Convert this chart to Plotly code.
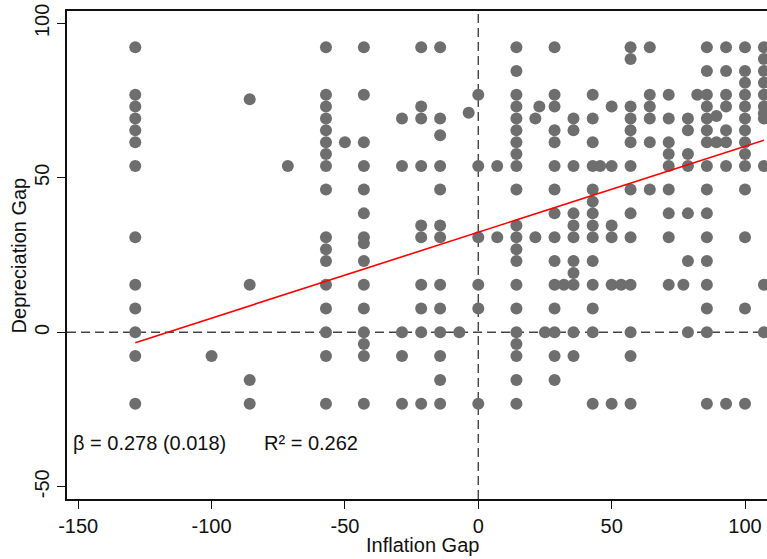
import plotly.graph_objects as go

# Inflation gap columns (x) and the depreciation gap values (y) observed at each
col_x = [-128.6, -100.0, -85.7, -71.4, -57.1, -50.0, -42.9, -28.6, -21.4, -14.3,
         -7.1, -3.6, 0.0, 7.1, 14.3, 21.4, 22.9, 25.0, 28.6, 32.1, 35.7, 42.9,
         45.7, 50.0, 53.6, 57.1, 64.3, 71.4, 76.9, 78.6, 82.1, 85.7, 89.3, 92.9,
         100.0, 107.1]
col_y = [
    [92.3, 76.9, 73.1, 69.2, 65.4, 61.5, 53.8, 30.8, 15.4, 7.7, 0, -7.7, -23.1],
    [-7.7],
    [75.4, 15.4, -15.4, -23.1],
    [53.8],
    [92.3, 76.9, 73.1, 69.2, 65.4, 61.5, 57.7, 53.8, 46.2, 30.8, 26.9, 23.1, 15.4, 7.7, 0, -7.7, -23.1],
    [61.5],
    [92.3, 76.9, 61.5, 53.8, 46.2, 38.5, 30.8, 28.8, 23.1, 15.4, 7.7, 0, -3.8, -7.7, -23.1],
    [69.2, 53.8, 0, -7.7, -23.1],
    [92.3, 73.1, 69.2, 53.8, 34.6, 30.8, 15.4, 7.7, 0, -23.1],
    [92.3, 69.2, 63.8, 53.8, 46.2, 34.6, 30.8, 15.4, 7.7, 0, -7.7, -15.4, -23.1],
    [0],
    [71.1],
    [76.9, 53.8, 30.8, 15.4, 7.7, -23.1],
    [53.8, 30.8],
    [92.3, 84.6, 76.9, 73.1, 69.2, 65.4, 61.5, 57.7, 53.8, 46.2, 34.6, 30.8, 26.9, 23.1, 15.4, 7.7, 0, -3.8, -7.7, -15.4, -23.1],
    [69.2, 30.8],
    [73.1],
    [0],
    [92.3, 76.9, 73.1, 65.4, 61.5, 53.8, 46.2, 38.5, 30.8, 23.1, 15.4, 7.7, 0, -7.7, -15.4],
    [15.4],
    [69.2, 65.4, 53.8, 38.5, 34.6, 30.8, 23.1, 19.2, 15.4, 0, -7.7],
    [76.9, 69.2, 61.5, 53.8, 46.2, 42.3, 38.5, 34.6, 30.8, 23.1, 15.4, 7.7, 0, -23.1],
    [53.8],
    [73.1, 53.8, 34.6, 30.8, 15.4, -23.1],
    [15.4],
    [92.3, 88.5, 73.1, 69.2, 65.4, 61.5, 53.8, 46.2, 38.5, 30.8, 15.4, 0, -7.7, -23.1],
    [92.3, 76.9, 73.1, 69.2, 61.5, 46.2],
    [76.9, 69.2, 61.5, 57.7, 53.8, 46.2, 38.5, 30.8, 15.4],
    [15.4],
    [69.2, 65.4, 57.7, 53.8, 38.5, 23.1, 0],
    [76.9],
    [92.3, 84.6, 76.9, 73.1, 69.2, 65.4, 61.5, 53.8, 46.2, 38.5, 30.8, 23.1, 15.4, 7.7, 0, -23.1],
    [70.0, 61.5],
    [92.3, 84.6, 76.9, 73.1, 65.4, 61.5, 53.8, -23.1],
    [92.3, 84.6, 80.8, 76.9, 73.1, 69.2, 65.4, 61.5, 57.7, 53.8, 46.2, 30.8, 7.7, -23.1],
    [92.3, 88.5, 84.6, 80.8, 76.9, 73.1, 70.9, 69.2, 53.8, 15.4, 0],
]

fit_slope = 0.278
fit_se = 0.018
fit_intercept = 32.4
r_squared = 0.262

x_ticks = [-150, -100, -50, 0, 50, 100]
x_tick_labels = ["-150", "-100", "-50", "0", "50", "100"]
y_ticks = [-50, 0, 50, 100]
y_tick_labels = ["-50", "0", "50", "100"]

xs, ys = [], []
for cx, yl in zip(col_x, col_y):
    for v in yl:
        xs.append(cx)
        ys.append(v)

FONT = "Liberation Sans, Arial, Helvetica, sans-serif"
TXT = "#111111"

fig = go.Figure()
fig.add_trace(go.Scatter(x=xs, y=ys, mode="markers",
                         marker=dict(size=12, color="#6e6e6e", line=dict(width=0)),
                         hoverinfo="x+y", showlegend=False))

lx = [min(xs), max(xs)]
ly = [fit_intercept + fit_slope * v for v in lx]
fig.add_trace(go.Scatter(x=lx, y=ly, mode="lines",
                         line=dict(color="#ff0000", width=1.6),
                         showlegend=False, hoverinfo="skip"))

# reference dashed lines
fig.add_shape(type="line", xref="x", yref="paper", x0=0, x1=0, y0=0, y1=1,
              line=dict(color="#444444", width=1.4, dash="9px,5px"), layer="below")
fig.add_shape(type="line", xref="paper", yref="y", x0=0, x1=1, y0=0, y1=0,
              line=dict(color="#444444", width=1.4, dash="9px,5px"), layer="below")

fig.add_annotation(x=-152.6, y=-35.8, xref="x", yref="y", xanchor="left", yanchor="middle",
                   text=f"β = {fit_slope:.3f} ({fit_se:.3f})", showarrow=False,
                   font=dict(size=20, color=TXT, family=FONT))
fig.add_annotation(x=-81.0, y=-35.8, xref="x", yref="y", xanchor="left", yanchor="middle",
                   text=f"R² = {r_squared:.3f}", showarrow=False,
                   font=dict(size=20, color=TXT, family=FONT))

# axis titles
fig.add_annotation(x=-21.0, y=-0.094, xref="x", yref="paper", xanchor="center", yanchor="middle",
                   text="Inflation Gap", showarrow=False,
                   font=dict(size=20, color=TXT, family=FONT))
fig.add_annotation(x=-0.068, y=0.5, xref="paper", yref="paper", xanchor="center", yanchor="middle",
                   text="Depreciation Gap", textangle=-90, showarrow=False,
                   font=dict(size=20, color=TXT, family=FONT))

fig.update_layout(
    width=767, height=559,
    margin=dict(l=67, r=0, t=11, b=60, autoexpand=False),
    paper_bgcolor="white", plot_bgcolor="white",
    font=dict(family=FONT, size=20, color=TXT),
    xaxis=dict(range=[-154.2, 108.25], tickvals=x_ticks, ticktext=x_tick_labels,
               showgrid=False, zeroline=False, automargin=False,
               showline=True, linecolor=TXT, linewidth=1.5, mirror=True,
               ticks="outside", ticklen=8, tickwidth=1.2, tickcolor=TXT,
               tickfont=dict(size=20, color=TXT)),
    yaxis=dict(range=[-53.95, 104.0], tickvals=y_ticks, ticktext=y_tick_labels,
               showgrid=False, zeroline=False, automargin=False,
               showline=True, linecolor=TXT, linewidth=1.5, mirror=False,
               ticks="outside", ticklen=8, tickwidth=1.2, tickcolor=TXT,
               tickangle=-90, tickfont=dict(size=20, color=TXT)),
)

fig.write_html("out.html", config={"displayModeBar": False},
               post_script="document.body.style.margin='0';document.body.style.overflow='hidden';")
